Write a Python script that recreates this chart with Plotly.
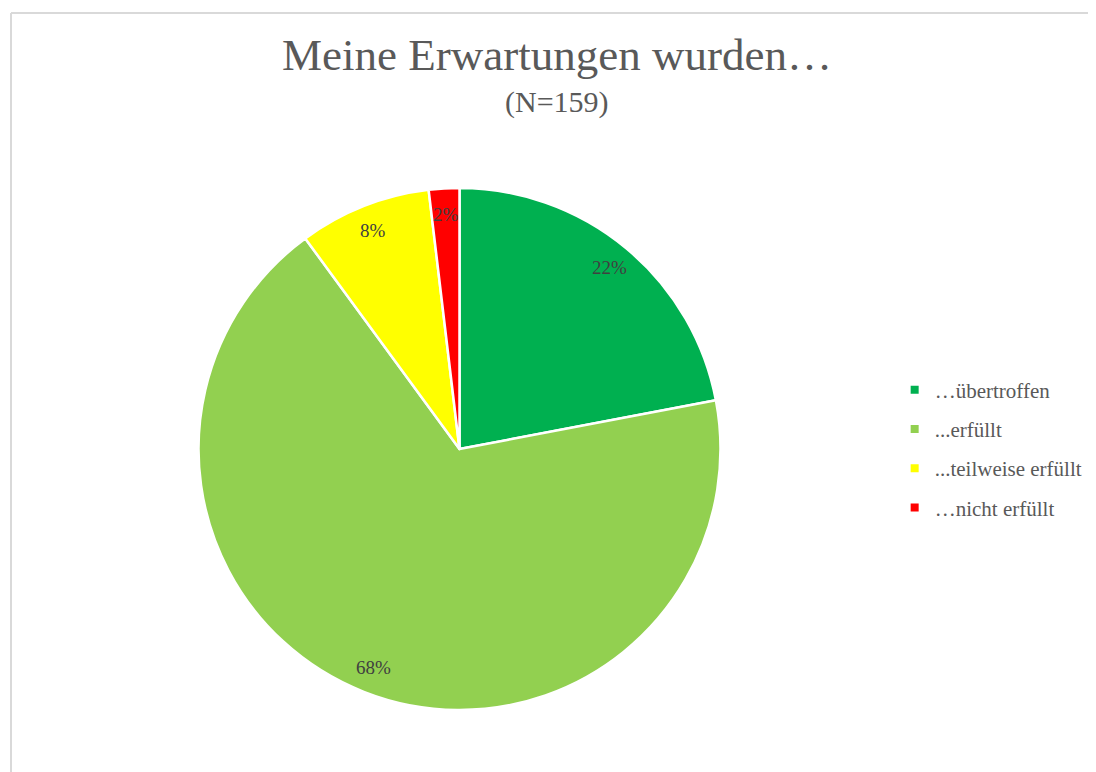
import math
import plotly.graph_objects as go

# answers (N=159)
labels = ["…übertroffen", "...erfüllt", "...teilweise erfüllt", "…nicht erfüllt"]
counts = [35, 108, 13, 3]
colors = ["#00B050", "#92D050", "#FFFF00", "#FF0000"]

FONT = "Liberation Serif"
GREY = "#595959"
W, H = 1096, 772

# pie domain (paper coords, margins are zero)
dom_x = [0.1734, 0.6505]
dom_y = [0.0907, 0.7668]

fig = go.Figure()
fig.add_trace(go.Pie(
    labels=labels,
    values=counts,
    marker=dict(colors=colors, line=dict(color="white", width=2.5)),
    sort=False,
    direction="clockwise",
    rotation=0,
    textinfo="none",
    domain=dict(x=dom_x, y=dom_y),
    hoverinfo="label+percent",
    showlegend=False,
))

# legend entries (one group each so the spacing can be opened up)
for lab, col in zip(labels, colors):
    fig.add_trace(go.Scatter(
        x=[None], y=[None], mode="markers", name=lab, legendgroup=lab,
        marker=dict(symbol="square", size=8, color=col),
    ))

# percent labels near the outer edge, like the original
total = sum(counts)
cx = (dom_x[0] + dom_x[1]) / 2 * W
cy = (1 - (dom_y[0] + dom_y[1]) / 2) * H
r = (dom_x[1] - dom_x[0]) * W / 2
cum = 0
for c in counts:
    mid = (cum + c / 2) / total
    cum += c
    ang = mid * 2 * math.pi
    lx = cx + 0.9 * r * math.sin(ang)
    ly = cy - 0.9 * r * math.cos(ang)
    fig.add_annotation(
        x=lx / W, y=1 - ly / H, xref="paper", yref="paper",
        xanchor="center", yanchor="middle",
        text=f"{round(100 * c / total)}%", showarrow=False,
        font=dict(family=FONT, size=19, color="#404040"),
    )

# subtitle
fig.add_annotation(
    x=549 / W, y=1 - 75 / H, xref="paper", yref="paper",
    xanchor="center", yanchor="top", showarrow=False,
    text="(N=159)", font=dict(family=FONT, size=30, color=GREY),
)

# outline of the chart area
fig.add_shape(type="line", xref="paper", yref="paper",
              x0=3 / W, y0=1 - 5 / H, x1=1, y1=1 - 5 / H,
              line=dict(color="#D9D9D9", width=2))
fig.add_shape(type="line", xref="paper", yref="paper",
              x0=3 / W, y0=1 - 5 / H, x1=3 / W, y1=0,
              line=dict(color="#D9D9D9", width=2))

fig.update_layout(
    width=W, height=H,
    margin=dict(l=0, r=0, t=0, b=0),
    paper_bgcolor="white",
    plot_bgcolor="white",
    xaxis=dict(visible=False),
    yaxis=dict(visible=False),
    title=dict(
        text="Meine Erwartungen wurden…",
        x=549 / W, xanchor="center", y=1 - 30 / H, yanchor="top",
        font=dict(family=FONT, size=45, color=GREY),
    ),
    legend=dict(
        x=0.809, y=1 - 441 / H, yanchor="middle", xanchor="left",
        font=dict(family=FONT, size=21, color=GREY),
        bgcolor="rgba(0,0,0,0)",
        tracegroupgap=9,
    ),
)

fig.write_html("out.html")
